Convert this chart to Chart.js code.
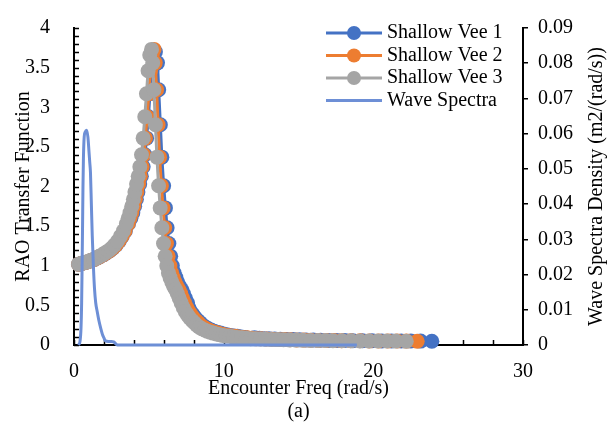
<!DOCTYPE html>
<html>
<head>
<meta charset="utf-8">
<script src="https://cdn.jsdelivr.net/npm/chart.js@4.4.1/dist/chart.umd.min.js"></script>
<style>
  html, body { margin: 0; padding: 0; background: #fff; }
</style>
</head>
<body>
<canvas id="grafico" width="614" height="427"></canvas>
<script>
// dados
const freq1 = [0.31,0.52,0.73,0.94,1.14,1.35,1.56,1.77,1.98,2.18,
  2.39,2.60,2.81,3.02,3.22,3.43,3.64,3.80,3.93,4.05,
  4.17,4.27,4.39,4.50,4.62,4.74,4.85,4.97,5.08,5.20,
  5.31,5.44,5.58,5.66,5.77,5.87,5.99,6.11,6.22,6.34,
  6.46,6.57,6.69,6.81,6.93,7.06,7.19,7.31,7.45,7.59,
  7.67,7.81,7.96,8.12,8.27,8.44,8.61,8.79,8.97,9.16,
  9.35,9.56,9.77,9.98,10.21,10.44,10.68,10.92,11.18,11.45,
  12.06,12.39,12.71,13.03,13.41,13.79,14.22,14.65,15.08,15.51,
  15.99,16.48,17.02,17.56,18.09,18.63,19.28,19.92,20.57,21.22,
  21.86,22.51,23.16,23.91];
const rao1 = [1.02,1.03,1.04,1.05,1.065,1.08,1.10,1.12,1.14,1.165,
  1.19,1.22,1.26,1.31,1.37,1.44,1.53,1.60,1.67,1.75,
  1.84,1.93,2.03,2.13,2.25,2.40,2.61,2.88,3.17,3.46,
  3.64,3.70,3.56,3.22,2.78,2.37,2.01,1.73,1.48,1.28,
  1.12,1.00,0.91,0.85,0.79,0.74,0.70,0.65,0.59,0.53,
  0.47,0.42,0.38,0.34,0.31,0.28,0.25,0.225,0.205,0.19,
  0.175,0.16,0.15,0.14,0.13,0.12,0.115,0.11,0.10,0.095,
  0.09,0.085,0.08,0.078,0.075,0.072,0.07,0.068,0.066,0.064,
  0.062,0.06,0.058,0.057,0.056,0.055,0.054,0.053,0.052,0.051,
  0.05,0.05,0.049,0.048];

const freq2 = [0.31,0.52,0.72,0.93,1.14,1.34,1.55,1.76,1.96,2.17,
  2.38,2.58,2.79,3.00,3.20,3.41,3.62,3.74,3.86,3.99,
  4.10,4.20,4.32,4.43,4.55,4.66,4.77,4.89,5.00,5.11,
  5.23,5.35,5.43,5.52,5.62,5.72,5.84,5.95,6.06,6.18,
  6.29,6.41,6.52,6.63,6.76,6.88,7.00,7.13,7.26,7.40,
  7.54,7.69,7.83,7.99,8.14,8.31,8.47,8.65,8.82,9.01,
  9.19,9.40,9.61,9.81,10.04,10.27,10.51,10.74,11.00,11.26,
  11.57,11.88,12.19,12.50,12.86,13.22,13.64,14.05,14.46,14.88,
  15.34,15.80,16.32,16.84,17.35,17.87,18.49,19.11,19.73,20.35,
  20.97,21.59,22.21,22.93];
const rao2 = [1.02,1.03,1.04,1.05,1.065,1.08,1.10,1.12,1.14,1.165,
  1.19,1.22,1.26,1.31,1.37,1.44,1.53,1.60,1.67,1.75,
  1.84,1.93,2.03,2.13,2.25,2.40,2.61,2.88,3.17,3.46,
  3.66,3.73,3.56,3.22,2.78,2.37,2.01,1.73,1.48,1.28,
  1.12,1.00,0.91,0.85,0.79,0.74,0.70,0.65,0.59,0.53,
  0.47,0.42,0.38,0.34,0.31,0.28,0.25,0.225,0.205,0.19,
  0.175,0.16,0.15,0.14,0.13,0.12,0.115,0.11,0.10,0.095,
  0.09,0.085,0.08,0.078,0.075,0.072,0.07,0.068,0.066,0.064,
  0.062,0.06,0.058,0.057,0.056,0.055,0.054,0.053,0.052,0.051,
  0.05,0.05,0.049,0.048];

const freq3 = [0.30,0.50,0.70,0.90,1.10,1.30,1.50,1.70,1.90,2.10,
  2.30,2.50,2.70,2.90,3.10,3.30,3.50,3.62,3.74,3.86,
  3.97,4.07,4.18,4.29,4.40,4.51,4.62,4.73,4.84,4.95,
  5.06,5.18,5.26,5.34,5.44,5.54,5.65,5.76,5.87,5.98,
  6.09,6.20,6.31,6.42,6.54,6.66,6.78,6.90,7.03,7.16,
  7.30,7.44,7.58,7.73,7.88,8.04,8.20,8.37,8.54,8.72,
  8.90,9.10,9.30,9.50,9.72,9.94,10.17,10.40,10.65,10.90,
  11.20,11.50,11.80,12.10,12.45,12.80,13.20,13.60,14.00,14.40,
  14.85,15.30,15.80,16.30,16.80,17.30,17.90,18.50,19.10,19.70,
  20.30,20.90,21.50,22.20];
const rao3 = [1.02,1.03,1.04,1.05,1.065,1.08,1.10,1.12,1.14,1.165,
  1.19,1.22,1.26,1.31,1.37,1.44,1.53,1.60,1.67,1.75,
  1.84,1.93,2.03,2.13,2.25,2.40,2.61,2.88,3.17,3.46,
  3.66,3.73,3.56,3.22,2.78,2.37,2.01,1.73,1.48,1.28,
  1.12,1.00,0.91,0.85,0.79,0.74,0.70,0.65,0.59,0.53,
  0.47,0.42,0.38,0.34,0.31,0.28,0.25,0.225,0.205,0.19,
  0.175,0.16,0.15,0.14,0.13,0.12,0.115,0.11,0.10,0.095,
  0.09,0.085,0.08,0.078,0.075,0.072,0.07,0.068,0.066,0.064,
  0.062,0.06,0.058,0.057,0.056,0.055,0.054,0.053,0.052,0.051,
  0.05,0.05,0.049,0.048];

const waveFreq = [0.30,0.40,0.47,0.51,0.54,0.57,0.60,0.63,0.68,0.75,
  0.84,0.93,1.00,1.05,1.10,1.16,1.22,1.30,1.37,1.45,
  1.55,1.67,1.80,1.90,2.00,2.10,2.30,2.50,2.65,2.80,
  2.90,4.00,6.00,8.00,10.00,12.00,14.00,16.00,18.00,18.90];
const waveDensity = [0,0.001,0.005,0.012,0.022,0.033,0.045,0.053,0.059,0.0605,
  0.061,0.059,0.055,0.052,0.049,0.040,0.031,0.022,0.016,0.012,
  0.0095,0.0068,0.0045,0.003,0.002,0.0012,0.001,0.001,0.0009,0.0003,
  0,0,0,0,0,0,0,0,0,0];

const seriesNames = ['Shallow Vee 1', 'Shallow Vee 2', 'Shallow Vee 3', 'Wave Spectra'];
const xTicks = [0, 10, 20, 30];
const raoTicks = [0, 0.5, 1, 1.5, 2, 2.5, 3, 3.5, 4];
const waveTicks = [0, 0.01, 0.02, 0.03, 0.04, 0.05, 0.06, 0.07, 0.08, 0.09];

const cores = ['#4472C4', '#ED7D31', '#A5A5A5', '#6D8FD6'];
const fonte = '"Liberation Serif", "Times New Roman", serif';

function pares(xs, ys) {
  return xs.map((v, i) => ({ x: v, y: ys[i] }));
}

function serieRao(i, xs, ys) {
  return {
    label: seriesNames[i],
    data: pares(xs, ys),
    yAxisID: 'y',
    showLine: true,
    borderColor: cores[i],
    backgroundColor: cores[i],
    borderWidth: 3,
    pointRadius: 7.5,
    pointBorderWidth: 0,
    pointBackgroundColor: cores[i],
    order: 3 - i,
    clip: false
  };
}

// marcas de escala para dentro (eixo esquerdo e eixo x)
const marcasInternas = {
  id: 'marcasInternas',
  beforeDatasetsDraw(chart) {
    const { ctx, chartArea, scales } = chart;
    ctx.save();
    ctx.strokeStyle = '#000';
    ctx.lineWidth = 1.5;
    ctx.beginPath();
    for (let k = 0; k <= 40; k++) {
      const py = Math.round(scales.y.getPixelForValue(k / 10)) + 0.5;
      ctx.moveTo(chartArea.left, py);
      ctx.lineTo(chartArea.left + 5, py);
    }
    for (let k = 0; k <= 30; k += 2) {
      const px = Math.round(scales.x.getPixelForValue(k)) + 0.5;
      ctx.moveTo(px, chartArea.bottom);
      ctx.lineTo(px, chartArea.bottom - 5);
    }
    ctx.stroke();
    ctx.restore();
  }
};

// legenda e títulos
const textos = {
  id: 'textos',
  afterDraw(chart) {
    const { ctx, chartArea } = chart;
    ctx.save();
    ctx.fillStyle = '#000';
    ctx.font = '20px ' + fonte;
    ctx.textBaseline = 'middle';

    seriesNames.forEach((nome, i) => {
      const ly = 33 + i * 22.5;
      ctx.strokeStyle = cores[i];
      ctx.lineWidth = 3;
      ctx.beginPath();
      ctx.moveTo(326, ly);
      ctx.lineTo(382, ly);
      ctx.stroke();
      if (i < 3) {
        ctx.fillStyle = cores[i];
        ctx.beginPath();
        ctx.arc(354, ly, 7, 0, Math.PI * 2);
        ctx.fill();
      }
      ctx.fillStyle = '#000';
      ctx.textAlign = 'left';
      ctx.fillText(nome, 387, ly);
    });

    const meioY = (chartArea.top + chartArea.bottom) / 2;
    const meioX = (chartArea.left + chartArea.right) / 2;
    ctx.textAlign = 'center';

    ctx.save();
    ctx.translate(24, meioY);
    ctx.rotate(-Math.PI / 2);
    ctx.fillText('RAO Transfer Function', 0, 0);
    ctx.restore();

    ctx.save();
    ctx.translate(597, meioY);
    ctx.rotate(-Math.PI / 2);
    ctx.fillText('Wave Spectra Density (m2/(rad/s))', 0, 0);
    ctx.restore();

    ctx.fillText('Encounter Freq (rad/s)', meioX, 389);
    ctx.fillText('(a)', meioX, 412);
    ctx.restore();
  }
};

const fundo = {
  id: 'fundo',
  beforeDraw(chart) {
    const ctx = chart.ctx;
    ctx.save();
    ctx.fillStyle = '#fff';
    ctx.fillRect(0, 0, chart.width, chart.height);
    ctx.restore();
  }
};

const ctx = document.getElementById('grafico');
new Chart(ctx, {
  type: 'scatter',
  data: {
    datasets: [
      serieRao(0, freq1, rao1),
      serieRao(1, freq2, rao2),
      serieRao(2, freq3, rao3),
      {
        label: seriesNames[3],
        data: pares(waveFreq, waveDensity),
        yAxisID: 'y2',
        showLine: true,
        borderColor: cores[3],
        borderWidth: 3,
        pointRadius: 0,
        cubicInterpolationMode: 'monotone',
        order: 0,
        clip: false
      }
    ]
  },
  options: {
    responsive: false,
    animation: false,
    layout: { padding: { top: 18, left: 0, right: 0, bottom: 0 } },
    plugins: { legend: { display: false }, tooltip: { enabled: false } },
    scales: {
      x: {
        type: 'linear',
        min: 0,
        max: 30,
        afterBuildTicks: s => { s.ticks = xTicks.map(v => ({ value: v })); },
        afterFit: s => { s.height = 82; },
        grid: { display: false },
        border: { display: true, color: '#000', width: 2 },
        ticks: { color: '#000', font: { family: fonte, size: 20 }, padding: 7, maxRotation: 0, callback: v => String(v) }
      },
      y: {
        position: 'left',
        min: 0,
        max: 4,
        afterBuildTicks: s => { s.ticks = raoTicks.map(v => ({ value: v })); },
        afterFit: s => { s.width = 74; },
        grid: { display: false },
        border: { display: true, color: '#000', width: 2 },
        ticks: { color: '#000', font: { family: fonte, size: 20 }, padding: 16, callback: v => String(v) }
      },
      y2: {
        position: 'right',
        min: 0,
        max: 0.09,
        afterBuildTicks: s => { s.ticks = waveTicks.map(v => ({ value: v })); },
        afterFit: s => { s.width = 91; },
        grid: { display: true, drawOnChartArea: false, drawTicks: true, tickLength: 5, color: '#000', lineWidth: 1.5 },
        border: { display: true, color: '#000', width: 2 },
        ticks: { color: '#000', font: { family: fonte, size: 20 }, padding: 10, callback: v => v === 0 ? '0' : v.toFixed(2) }
      }
    }
  },
  plugins: [fundo, marcasInternas, textos]
});
</script>
</body>
</html>
